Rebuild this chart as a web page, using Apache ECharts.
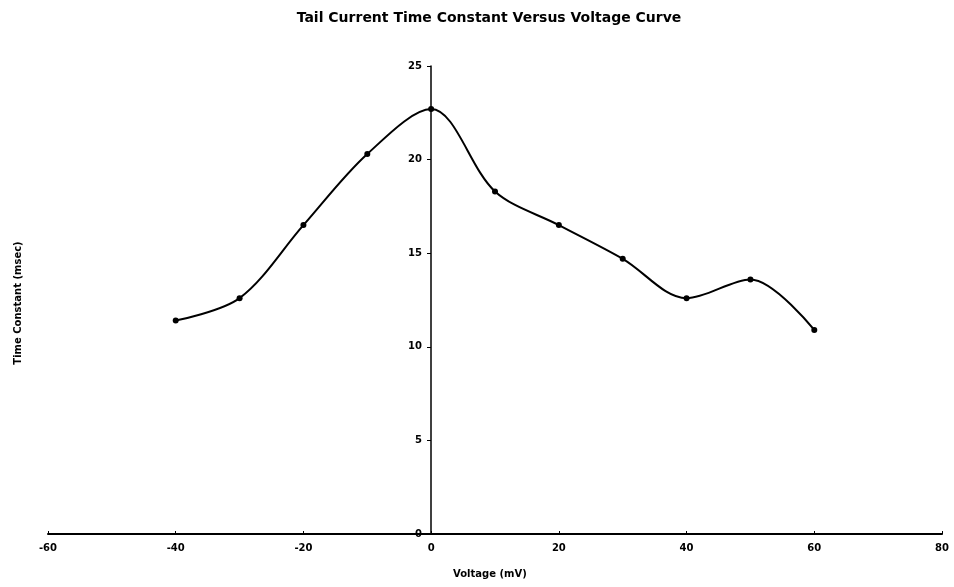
<!DOCTYPE html>
<html><head><meta charset="utf-8">
<script src="https://cdn.jsdelivr.net/npm/echarts@6/dist/echarts.min.js"></script>
<style>html,body{margin:0;padding:0;background:#fff}#c{width:954px;height:587px}</style>
</head><body><div id="c"></div>
<script>
const voltage = [-40, -30, -20, -10, 0, 10, 20, 30, 40, 50, 60];
const timeConstant = [11.4, 12.6, 16.5, 20.3, 22.7, 18.3, 16.5, 14.7, 12.6, 13.6, 10.9];
const xTicks = [-60, 80, 20];
const yTicks = [0, 25, 5];

const font = '"DejaVu Sans", "Liberation Sans", Arial, sans-serif';
const chart = echarts.init(document.getElementById('c'));
chart.setOption({
  animation: false,
  backgroundColor: '#fff',
  title: {
    text: 'Tail Current Time Constant Versus Voltage Curve',
    left: 484, top: 6, textAlign: 'center',
    textStyle: {fontFamily: font, fontSize: 14, fontWeight: 'bold', color: '#000'}
  },
  grid: {left: 48, right: 12, top: 66, bottom: 53, containLabel: false},
  xAxis: {
    type: 'value', min: xTicks[0], max: xTicks[1], interval: xTicks[2],
    splitLine: {show: false},
    axisLine: {show: true, onZero: false, lineStyle: {color: '#000', width: 2}},
    axisTick: {show: true, inside: true, length: 3, lineStyle: {color: '#000'}},
    axisLabel: {color: '#000', fontFamily: font, fontSize: 10, fontWeight: 'bold', margin: 9}
  },
  yAxis: {
    type: 'value', min: yTicks[0], max: yTicks[1], interval: yTicks[2],
    position: 'left', offset: -383,
    splitLine: {show: false},
    axisLine: {show: true, onZero: false, lineStyle: {color: '#000', width: 1.5}},
    axisTick: {show: true, length: 4, lineStyle: {color: '#000'}},
    axisLabel: {color: '#000', fontFamily: font, fontSize: 10, fontWeight: 'bold', margin: 9}
  },
  graphic: [
    {type: 'text', left: 453, top: 569,
     style: {text: 'Voltage (mV)', fill: '#000', font: 'bold 10px ' + font}},
    {type: 'text', x: 18, y: 303, rotation: Math.PI / 2,
     style: {text: 'Time Constant (msec)', fill: '#000', font: 'bold 10px ' + font, align: 'center', verticalAlign: 'middle'}}
  ],
  series: [{
    type: 'line',
    data: voltage.map((v, i) => [v, timeConstant[i]]),
    smooth: 0.33,
    symbol: 'circle', symbolSize: 6,
    itemStyle: {color: '#000'},
    lineStyle: {color: '#000', width: 2}
  }]
});
</script></body></html>
